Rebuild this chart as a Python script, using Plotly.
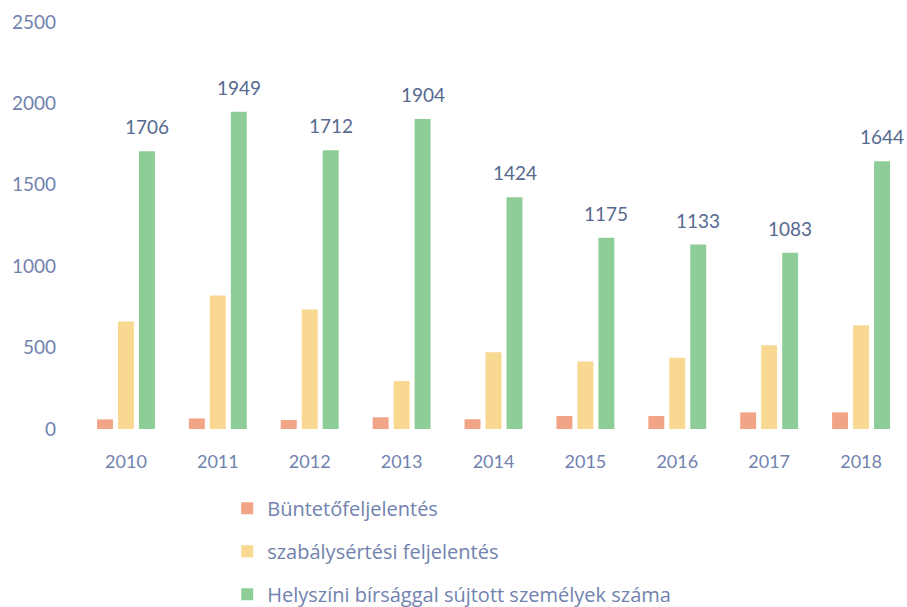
import plotly.graph_objects as go

years = ["2010", "2011", "2012", "2013", "2014", "2015", "2016", "2017", "2018"]
buntetofeljelentes = [59, 65, 55, 72, 60, 80, 80, 102, 102]
szabalysertesi = [660, 820, 734, 294, 472, 415, 437, 515, 638]
helyszini_birsag = [1706, 1949, 1712, 1904, 1424, 1175, 1133, 1083, 1644]

series_names = [
    "Büntetőfeljelentés",
    "szabálysértési feljelentés",
    "Helyszíni bírsággal sújtott személyek száma",
]
colors = ["#F2A487", "#F9D891", "#8FCD98"]

FONT = "Lato, 'Open Sans', sans-serif"
TICK_COLOR = "#7182AE"
LABEL_COLOR = "#56698F"

fig = go.Figure()
for i, (name, vals) in enumerate(zip(series_names, [buntetofeljelentes, szabalysertesi, helyszini_birsag])):
    fig.add_trace(go.Bar(
        x=years, y=vals, name=name,
        marker=dict(color=colors[i], line=dict(width=0)),
        legendgroup=f"g{i}",
    ))

# value labels above the green bars (category index positions)
for idx, v in enumerate(helyszini_birsag):
    fig.add_annotation(
        x=idx, y=v, text=str(v), showarrow=False,
        xanchor="center", yanchor="bottom", xshift=21, yshift=11,
        font=dict(family=FONT, size=19, color=LABEL_COLOR),
    )

fig.update_layout(
    width=907, height=607,
    margin=dict(l=80, r=0, t=22, b=178, autoexpand=False),
    paper_bgcolor="white", plot_bgcolor="white",
    barmode="group", bargap=0.315, bargroupgap=0.24,
    font=dict(family=FONT, size=17, color=TICK_COLOR),
    xaxis=dict(type="category", range=[-0.5, len(years) - 0.5],
               showgrid=False, showline=False, zeroline=False,
               tickfont=dict(size=18, color=TICK_COLOR), ticks="",
               ticklabelstandoff=20),
    yaxis=dict(range=[0, 2500], dtick=500, showgrid=False, showline=False,
               zeroline=False, tickfont=dict(size=19, color=TICK_COLOR),
               ticks="", ticklabelstandoff=23),
    legend=dict(orientation="v", x=0.178, xanchor="left", y=-0.147, yanchor="top",
                font=dict(family="'Open Sans', sans-serif", size=20, color=TICK_COLOR),
                tracegroupgap=14, itemwidth=30),
    showlegend=True,
)

fig.write_html("out.html")
